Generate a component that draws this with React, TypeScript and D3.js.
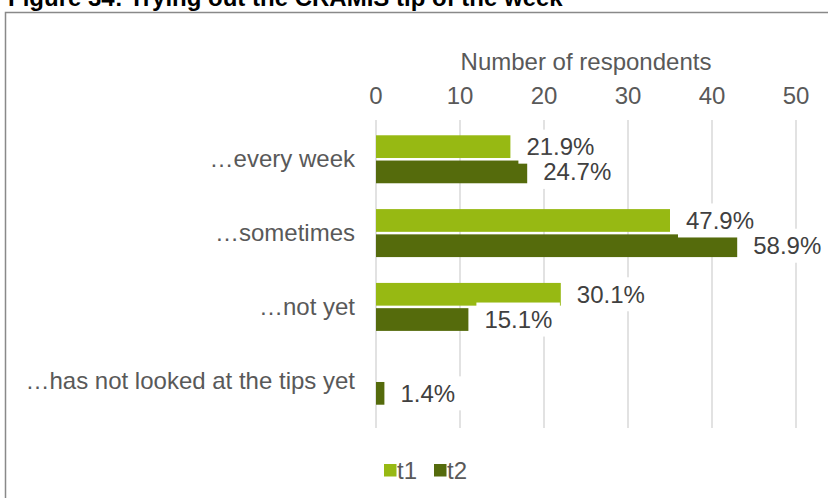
import React from "react";
import * as d3 from "d3";

const categories = ["…every week", "…sometimes", "…not yet", "…has not looked at the tips yet"];
const seriesNames = ["t1", "t2"];
const t1Values = [16, 35, 22, 0];
const t2Values = [18, 43, 11, 1];
const t1Labels = ["21.9%", "47.9%", "30.1%", ""];
const t2Labels = ["24.7%", "58.9%", "15.1%", "1.4%"];
const xTicks = [0, 10, 20, 30, 40, 50];
const colors = ["#97b913", "#556b0c"];

const W = 828;
const H = 498;
const FONT = "'Liberation Sans', Arial, sans-serif";
const FS = 24;

export default function App() {
  const x = d3.scaleLinear().domain([0, 50]).range([376, 796]);
  const y = d3.scaleBand<string>().domain(categories).range([122, 418]).paddingInner(0.35).paddingOuter(0.18);
  const inner = d3.scaleBand<string>().domain(seriesNames).range([0, y.bandwidth()]).paddingInner(0.1);
  const series = [
    { name: "t1", values: t1Values, labels: t1Labels, color: colors[0] },
    { name: "t2", values: t2Values, labels: t2Labels, color: colors[1] },
  ];
  const labelW = (s: string) => s.length * 13.5;
  return (
    <svg width={W} height={H} style={{ position: "absolute", left: 0, top: 0, background: "#fff" }}>
      <text x={8} y={6} fontFamily={FONT} fontWeight="bold" fontSize={24} fill="#000">
        Figure 34: Trying out the CRAMIS tip of the week
      </text>
      <rect x={5.5} y={12.5} width={W + 10} height={H + 10} fill="#fff" stroke="#898989" strokeWidth={1.5} />
      <text x={586} y={70} textAnchor="middle" fontFamily={FONT} fontSize={FS} fill="#595959">
        Number of respondents
      </text>
      {xTicks.map((t) => (
        <g key={t}>
          <line x1={x(t)} x2={x(t)} y1={120} y2={428} stroke="#d9d9d9" strokeWidth={1.5} />
          <text x={x(t)} y={104} textAnchor="middle" fontFamily={FONT} fontSize={FS} fill="#595959">
            {t}
          </text>
        </g>
      ))}
      {categories.map((c) => (
        <text key={c} x={355} y={(y(c) as number) + y.bandwidth() / 2 + 8} textAnchor="end" fontFamily={FONT} fontSize={FS} fill="#595959">
          {c}
        </text>
      ))}
      {series.map((s) =>
        categories.map((c, i) => {
          const v = s.values[i];
          if (!v) return null;
          return (
            <rect key={s.name + c} x={x(0)} y={(y(c) as number) + (inner(s.name) as number)} width={x(v) - x(0)} height={inner.bandwidth()} fill={s.color} />
          );
        })
      )}
      {series.map((s) =>
        categories.map((c, i) => {
          const v = s.values[i];
          const lab = s.labels[i];
          if (!lab) return null;
          const cy = (y(c) as number) + (inner(s.name) as number) + inner.bandwidth() / 2;
          const bx = x(v) + 8;
          return (
            <g key={"l" + s.name + c}>
              <rect x={bx} y={cy - 17} width={labelW(lab) + 16} height={34} fill="#fff" />
              <text x={bx + 8} y={cy + 8.5} fontFamily={FONT} fontSize={FS} fill="#404040">
                {lab}
              </text>
            </g>
          );
        })
      )}
      {series.map((s, i) => {
        const lx = 384 + i * 50;
        return (
          <g key={"leg" + s.name}>
            <rect x={lx} y={464} width={12.5} height={12.5} fill={s.color} />
            <text x={lx + 13} y={479} fontFamily={FONT} fontSize={FS} fill="#595959">
              {s.name}
            </text>
          </g>
        );
      })}
    </svg>
  );
}
